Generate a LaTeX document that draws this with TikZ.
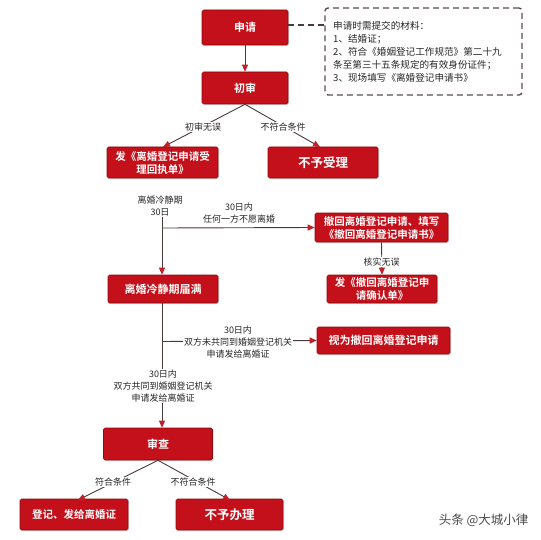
\documentclass[tikz,border=0pt]{standalone}
\usepackage{fontspec}
\usetikzlibrary{arrows.meta,shadows}
\newfontfamily\cjk{Noto Sans CJK SC}
\newfontfamily\cjkb{Noto Sans CJK SC Bold}
\definecolor{boxred}{HTML}{C4101A}
\definecolor{boxedge}{HTML}{8A0A10}
\definecolor{linegray}{HTML}{4A3A3A}
\definecolor{tipred}{HTML}{C0202A}
\tikzset{
  rbox/.style={draw=boxedge, fill=boxred, line width=0.6pt, rounded corners=1.5pt,
    text=white, font=\cjkb\fontsize{11}{13}\selectfont, align=center,
    inner sep=0pt, drop shadow={shadow xshift=1pt, shadow yshift=-1pt, opacity=0.25}},
  conn/.style={draw=linegray, line width=0.9pt},
  arr/.style={conn, -{Triangle[length=7pt,width=6pt,color=tipred]}},
  lbl/.style={font=\cjk\fontsize{9}{12}\selectfont, text=black!85, align=center, fill=white, inner sep=1pt},
}
\begin{document}
\begin{tikzpicture}[x=1pt,y=-1pt]
\useasboundingbox[fill=white] (0,0) rectangle (540,540);
% boxes
\node[rbox, minimum width=86pt, minimum height=35pt] (sq) at (245,27.5) {申请};
\node[draw=linegray!90, dashed, line width=1.4pt, dash pattern=on 6pt off 4pt, rounded corners=3pt,
      minimum width=197pt, minimum height=87pt] (mat) at (423.5,51.5) {};
\node[font=\cjk\fontsize{9.6}{12.9}\selectfont, align=left, anchor=north west, inner sep=0pt, text=black!85] (matt) at (333,21.5)
  {申请时需提交的材料：\\1、结婚证；\\2、符合《婚姻登记工作规范》第二十九\\条至第三十五条规定的有效身份证件；\\3、现场填写《离婚登记申请书》};
\node[rbox, minimum width=86pt, minimum height=32pt] (cs) at (245,88) {初审};
\node[rbox, minimum width=111pt, minimum height=31pt, font=\cjkb\fontsize{10.5}{13}\selectfont] (hz) at (162.5,162.5) {发《离婚登记申请受\\理回执单》};
\node[rbox, minimum width=110pt, minimum height=31pt, font=\cjkb\fontsize{12.5}{14}\selectfont] (bysl) at (323,162.5) {不予受理};
\node[rbox, minimum width=110pt, minimum height=28pt] (ldq) at (163,289) {离婚冷静期届满};
\node[rbox, minimum width=133pt, minimum height=29pt, font=\cjkb\fontsize{10.5}{13}\selectfont] (ch) at (381.5,227.5) {撤回离婚登记申请、填写\\《撤回离婚登记申请书》};
\node[rbox, minimum width=110pt, minimum height=28pt, font=\cjkb\fontsize{10.5}{13}\selectfont] (qr) at (382,289) {发《撤回离婚登记申\\请确认单》};
\node[rbox, minimum width=133pt, minimum height=27pt] (sw) at (383.5,340.5) {视为撤回离婚登记申请};
\node[rbox, minimum width=109pt, minimum height=32pt] (sc) at (158,444) {审查};
\node[rbox, minimum width=108pt, minimum height=31pt, font=\cjkb\fontsize{10.5}{13}\selectfont] (dj) at (74,514.5) {登记、发给离婚证};
\node[rbox, minimum width=107pt, minimum height=31pt, font=\cjkb\fontsize{12.5}{14}\selectfont] (bybl) at (229.5,514.5) {不予办理};
% connectors
\draw[arr] (sq) -- (cs);
\draw[conn, dashed, line width=1.4pt, dash pattern=on 6pt off 4pt] (sq.east |- 0,25) -- (mat.west |- 0,25);
\coordinate (hzt) at (163,147);
\coordinate (bylt) at (320,147);
\draw[arr] (cs.south) -- (hzt);
\draw[arr] (cs.south) -- (bylt);
\node[lbl] (l1) at (203,127) {初审无误};
\node[lbl] (l2) at (283,127) {不符合条件};
\node[lbl, fill=none] (l3) at (160,206) {离婚冷静期\\30日};
\coordinate (sp1) at (162,228);
\draw[arr] (l3.south -| sp1) -- (sp1 |- ldq.north);
\draw[arr] (sp1) -- (ch.west);
\node[lbl, fill=none, anchor=south] (l4) at (239,224) {30日内\\任何一方不愿离婚};
\draw[arr] (ch.south) -- (qr.north);
\node[lbl] (l5) at (381.5,262) {核实无误};
\coordinate (sp2) at (162,341.5);
\draw[arr] (ldq.south -| sp1) -- (sp1 |- sc.north);
\draw[arr] (sp2) -- (sw.west);
\node[lbl] (l6) at (238,342) {30日内\\双方未共同到婚姻登记机关\\申请发给离婚证};
\node[lbl] (l7) at (163,386) {30日内\\双方共同到婚姻登记机关\\申请发给离婚证};
\coordinate (djt) at (78,500);
\coordinate (byt) at (230,500);
\draw[arr] (sc.south) -- (djt);
\draw[arr] (sc.south) -- (byt);
\node[lbl] (l8) at (113,482) {符合条件};
\node[lbl] (l9) at (193,482) {不符合条件};
\node[font=\cjk\fontsize{12.5}{14}\selectfont, text=black!70, anchor=east] (wm) at (532,520) {头条 @大城小律};
\end{tikzpicture}
\end{document}
